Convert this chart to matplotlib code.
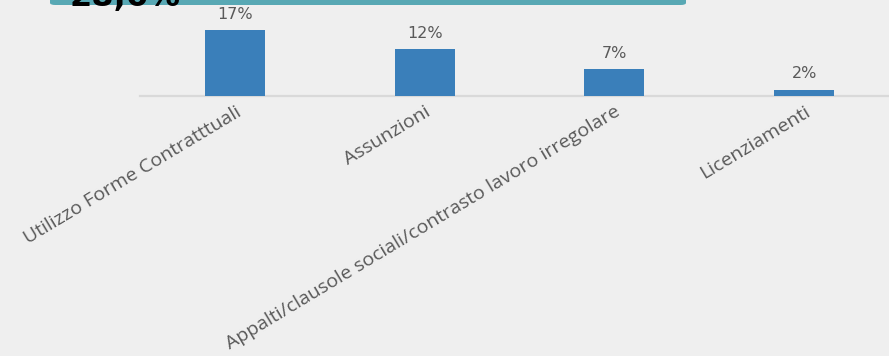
import matplotlib.pyplot as plt
from matplotlib.patches import FancyBboxPatch

categories = [
    'Utilizzo Forme Contratttuali',
    'Assunzioni',
    'Appalti/clausole sociali/contrasto lavoro irregolare',
    'Licenziamenti',
]
values = [17.0, 12.1, 7.0, 1.6]
bar_labels = ['17%', '12%', '7%', '2%']
headline = '28,6%'

W, H = 889, 356
bg = '#efefef'
bar_color = '#3a7fba'
text_color = '#595959'

plt.rcParams['font.family'] = ['Open Sans', 'DejaVu Sans']

fig = plt.figure(figsize=(W / 100, H / 100), dpi=100, facecolor=bg)

# headline banner, mostly cut off at the top
banner = FancyBboxPatch((50 / W, 1 - 5 / H), 636 / W, 20 / H,
                        boxstyle='round,pad=0,rounding_size=0.006',
                        transform=fig.transFigure, facecolor='#58a8b4',
                        edgecolor='none', zorder=1)
fig.patches.append(banner)
fig.text(70 / W, 1 - 6 / H, headline, fontsize=23, fontweight='bold',
         color='black', ha='left', va='baseline', family='DejaVu Sans',
         zorder=2)

# axes: bottom at y=96px, each category ~190px wide starting at x=140
ax = fig.add_axes([140 / W, 1 - 96 / H, 759 / W, 96 / H])
ax.set_facecolor(bg)
x = range(len(categories))
bars = ax.bar(x, values, width=0.316, color=bar_color, zorder=3)
ax.set_xlim(-0.5, len(categories) - 0.5)
ax.set_ylim(0, 96 / 3.88)

for b, lab in zip(bars, bar_labels):
    ax.annotate(lab, (b.get_x() + b.get_width() / 2, b.get_height()),
                xytext=(0, 6), textcoords='offset points',
                ha='center', va='bottom', fontsize=11.5, color=text_color,
                family='DejaVu Sans')

for s in ['top', 'left', 'right']:
    ax.spines[s].set_visible(False)
ax.spines['bottom'].set_color('#d9d9d9')
ax.spines['bottom'].set_linewidth(1.6)
ax.set_yticks([])
ax.set_xticks(list(x))
ax.set_xticklabels(categories, rotation=31, ha='right', va='top',
                   rotation_mode='anchor', fontsize=14, color=text_color)
ax.tick_params(axis='x', length=0, pad=5)

fig.savefig('out.png', dpi=100, facecolor=bg)
